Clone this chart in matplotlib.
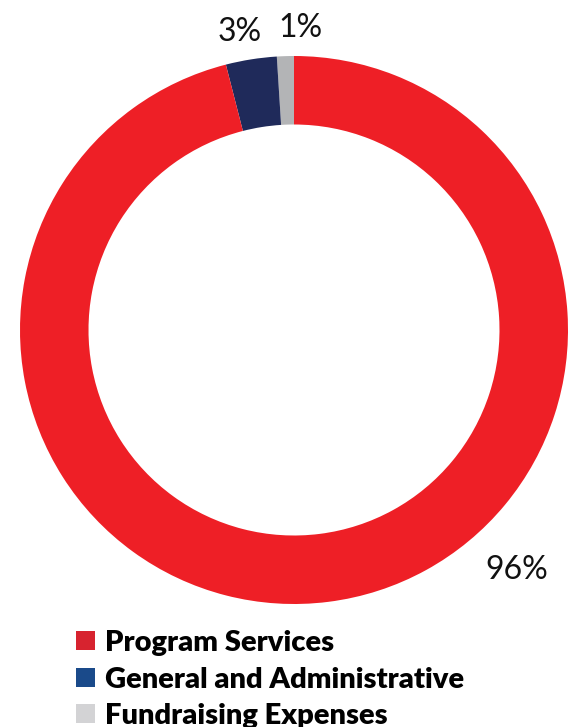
import matplotlib.pyplot as plt
from matplotlib.patches import Patch

# dados do gráfico
categorias = ["Fundraising Expenses", "General and Administrative", "Program Services"]
valores = [1, 3, 96]
rotulos = ["1%", "3%", "96%"]
cores_anel = ["#B3B4B6", "#1F2A5A", "#EE1F26"]

# legenda (ordem de cima para baixo)
legenda_nomes = ["Program Services", "General and Administrative", "Fundraising Expenses"]
legenda_cores = ["#D7232F", "#1A4A8A", "#D3D3D5"]

W, H = 571, 727
fig = plt.figure(figsize=(W / 100, H / 100), dpi=100)

# anel centrado em (294, 330) px, raio externo 274 px
cx, cy, R = 294, 330, 274
ax = fig.add_axes([(cx - R) / W, (H - cy - R) / H, 2 * R / W, 2 * R / H])
ax.pie(valores, colors=cores_anel, startangle=90, counterclock=True,
       radius=1, wedgeprops=dict(width=0.25, linewidth=0))
ax.set_xlim(-1, 1)
ax.set_ylim(-1, 1)
ax.set_aspect("equal")
ax.axis("off")

# posições dos rótulos (px)
pos_rotulos = [(300, 28), (240, 32), (517, 570)]
for txt, (px, py) in zip(rotulos, pos_rotulos):
    fig.text(px / W, 1 - py / H, txt, ha="center", va="center",
             fontsize=23, family="Lato", weight="normal", color="#111111")

handles = [Patch(facecolor=c, edgecolor="none") for c in legenda_cores]
fig.legend(handles, legenda_nomes, loc="upper left",
           bbox_to_anchor=(76 / W, 1 - 630 / H), frameon=False,
           handlelength=0.65, handleheight=0.65, handletextpad=0.35,
           labelspacing=0.36, borderaxespad=0, borderpad=0,
           prop=dict(family="Lato", weight="heavy", size=21))

fig.savefig("out.png", dpi=100)
